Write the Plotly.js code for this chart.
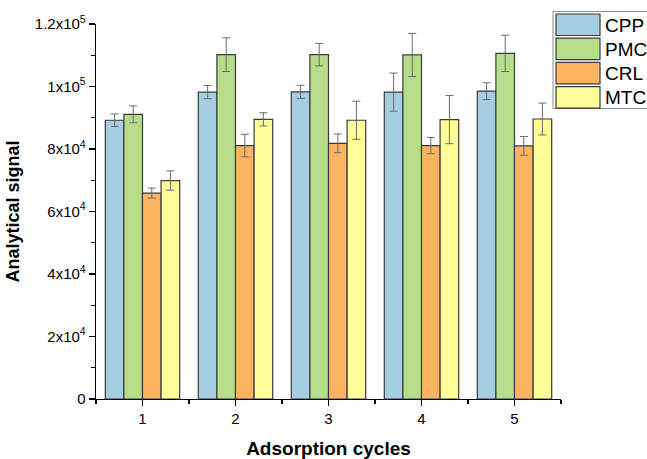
<!DOCTYPE html>
<html>
<head>
<meta charset="utf-8">
<script src="https://cdn.plot.ly/plotly-3.0.1.min.js"></script>
<style>html,body{margin:0;padding:0;background:#fff;} #chart{width:647px;height:459px;}</style>
</head>
<body>
<div id="chart"></div>
<script>
const cycles = [1, 2, 3, 4, 5];
const seriesNames = ["CPP", "PMC", "CRL", "MTC"];
const seriesColors = ["#A6CEE3", "#B6DE8A", "#FDB462", "#FFFF99"];
const cpp = [89200, 98200, 98300, 98200, 98500];
const cppErr = [2000, 2100, 2100, 6100, 2700];
const pmc = [91100, 110200, 110200, 110100, 110600];
const pmcErr = [2700, 5400, 3600, 6900, 5800];
const crl = [65900, 81100, 81800, 81100, 81000];
const crlErr = [1600, 3600, 3000, 2600, 3000];
const mtc = [69900, 89500, 89200, 89400, 89600];
const mtcErr = [3100, 2100, 6100, 7700, 5100];
const yTickVals = [0, 20000, 40000, 60000, 80000, 100000, 120000];
const yTickText = ["0", "2x10<sup>4</sup>", "4x10<sup>4</sup>", "6x10<sup>4</sup>", "8x10<sup>4</sup>", "1x10<sup>5</sup>", "1.2x10<sup>5</sup>"];

const values = [cpp, pmc, crl, mtc];
const errors = [cppErr, pmcErr, crlErr, mtcErr];

const traces = seriesNames.map((n, i) => ({
  type: "bar", name: n, x: cycles, y: values[i],
  marker: {color: seriesColors[i], line: {color: "#3a3a3a", width: 1.2}},
  error_y: {type: "data", array: errors[i], visible: true, color: "#6a6a6a", thickness: 1, width: 4},
  showlegend: false
}));

// plot area in pixels
const L = 96, R = 561, T = 24, B = 399;
const W = 647, H = 459;
const px = v => (v - L) / (R - L);
const py = v => (B - v) / (B - T);

const shapes = [];
const annotations = [];
// legend box
shapes.push({type: "rect", xref: "paper", yref: "paper", x0: px(553), x1: px(680), y0: py(108.5), y1: py(11.5),
  line: {color: "#8a8a8a", width: 1}, fillcolor: "rgba(0,0,0,0)"});
seriesNames.forEach((n, i) => {
  const top = 14 + i * 24.2;
  shapes.push({type: "rect", xref: "paper", yref: "paper", x0: px(556), x1: px(600), y0: py(top + 21.5), y1: py(top),
    line: {color: "#3a3a3a", width: 1.2}, fillcolor: seriesColors[i]});
  annotations.push({xref: "paper", yref: "paper", x: px(603), y: py(top + 11), xanchor: "left", yanchor: "middle",
    text: n, showarrow: false, font: {family: "Liberation Sans, Arial, sans-serif", size: 19, color: "#000"}});
});

const layout = {
  width: W, height: H,
  margin: {l: L, r: W - R, t: T, b: H - B},
  paper_bgcolor: "#fff", plot_bgcolor: "#fff",
  barmode: "group", bargap: 0.2, bargroupgap: 0,
  font: {family: "Liberation Sans, Arial, sans-serif", color: "#000", size: 14},
  xaxis: {
    range: [0.5, 5.5], tickvals: cycles, ticktext: cycles.map(String),
    showgrid: false, zeroline: false, showline: true, linecolor: "#000", linewidth: 1.3,
    ticks: "outside", ticklen: 6, tickwidth: 1.3, tickcolor: "#000",
    minor: {tickvals: [0.5, 1.5, 2.5, 3.5, 4.5, 5.5], ticks: "outside", ticklen: 4, tickwidth: 1.3, tickcolor: "#000", showgrid: false},
    tickfont: {size: 15},
    title: {text: "<b>Adsorption cycles</b>", font: {size: 19}, standoff: 15}
  },
  yaxis: {
    range: [0, 120000], tickvals: yTickVals, ticktext: yTickText,
    showgrid: false, zeroline: false, showline: true, linecolor: "#000", linewidth: 1.3,
    ticks: "outside", ticklen: 6, tickwidth: 1.3, tickcolor: "#000",
    minor: {dtick: 10000, tick0: 0, ticks: "outside", ticklen: 4, tickwidth: 1.3, tickcolor: "#000", showgrid: false},
    tickfont: {size: 15},
    title: {text: "<b>Analytical signal</b>", font: {size: 18}, standoff: 10}
  },
  shapes: shapes,
  annotations: annotations,
  showlegend: false
};

Plotly.newPlot("chart", traces, layout, {staticPlot: true, displayModeBar: false});
</script>
</body>
</html>
